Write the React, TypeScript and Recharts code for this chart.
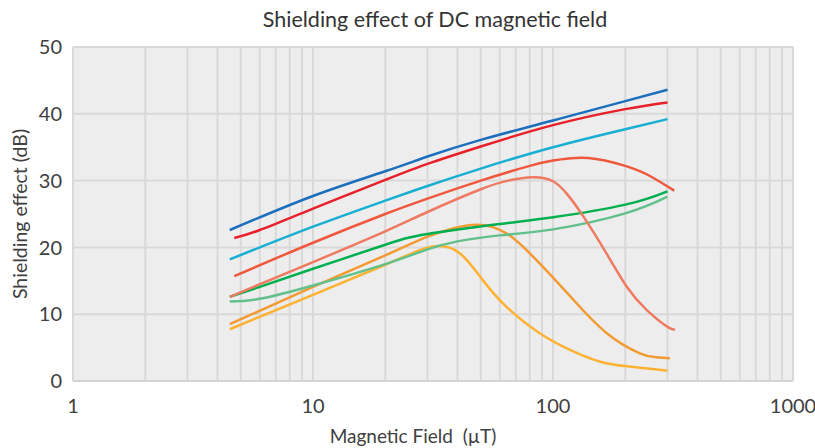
import React from 'react';
import { LineChart, Line, XAxis, YAxis, CartesianGrid } from 'recharts';

const FONT = 'Lato, "Open Sans", sans-serif';

// gridline / tick positions on the log axis
const xGridTicks = [
  1, 2, 3, 4, 5, 6, 7, 8, 9,
  10, 20, 30, 40, 50, 60, 70, 80, 90,
  100, 200, 300, 400, 500, 600, 700, 800, 900,
  1000,
];
const xLabelTicks = [1, 10, 100, 1000];
const yTicks = [0, 10, 20, 30, 40, 50];

// each curve: magnetic field (uT) vs shielding effect (dB)
const blue = [
  { x: 4.5, y: 22.6 }, { x: 10, y: 27.7 }, { x: 20, y: 31.4 }, { x: 30, y: 33.6 },
  { x: 50, y: 36.1 }, { x: 100, y: 39.0 }, { x: 200, y: 41.9 }, { x: 300, y: 43.6 },
];
const red = [
  { x: 4.7, y: 21.4 }, { x: 6, y: 22.6 }, { x: 10, y: 25.8 }, { x: 20, y: 30.1 },
  { x: 30, y: 32.5 }, { x: 50, y: 35.1 }, { x: 100, y: 38.3 }, { x: 200, y: 40.7 },
  { x: 300, y: 41.7 },
];
const cyan = [
  { x: 4.5, y: 18.2 }, { x: 10, y: 23.1 }, { x: 20, y: 27.0 }, { x: 30, y: 29.2 },
  { x: 50, y: 31.8 }, { x: 100, y: 35.0 }, { x: 200, y: 37.7 }, { x: 300, y: 39.2 },
];
const tomato = [
  { x: 4.7, y: 15.7 }, { x: 10, y: 20.7 }, { x: 20, y: 25.0 }, { x: 30, y: 27.3 },
  { x: 50, y: 30.0 }, { x: 80, y: 32.2 }, { x: 100, y: 33.0 }, { x: 140, y: 33.4 },
  { x: 200, y: 32.2 }, { x: 250, y: 30.8 }, { x: 320, y: 28.5 },
];
const salmon = [
  { x: 4.5, y: 12.6 }, { x: 10, y: 17.8 }, { x: 20, y: 22.4 }, { x: 30, y: 25.3 },
  { x: 50, y: 28.7 }, { x: 65, y: 30.0 }, { x: 82, y: 30.5 }, { x: 100, y: 29.9 },
  { x: 115, y: 27.9 }, { x: 134, y: 24.6 }, { x: 167, y: 19.1 }, { x: 203, y: 14.1 },
  { x: 246, y: 10.6 }, { x: 300, y: 8.1 }, { x: 322, y: 7.75 },
];
const green = [
  { x: 4.5, y: 12.6 }, { x: 6, y: 14.1 }, { x: 10, y: 16.8 }, { x: 20, y: 20.4 },
  { x: 30, y: 22.0 }, { x: 60, y: 23.5 }, { x: 100, y: 24.5 }, { x: 200, y: 26.4 },
  { x: 300, y: 28.4 },
];
const lightGreen = [
  { x: 4.5, y: 11.9 }, { x: 6, y: 12.3 }, { x: 10, y: 14.3 }, { x: 20, y: 17.5 },
  { x: 30, y: 19.7 }, { x: 40, y: 20.9 }, { x: 60, y: 21.8 }, { x: 100, y: 22.7 },
  { x: 200, y: 25.1 }, { x: 300, y: 27.6 },
];
const orange = [
  { x: 4.5, y: 8.5 }, { x: 10, y: 14.1 }, { x: 20, y: 18.8 }, { x: 30, y: 21.6 },
  { x: 38, y: 22.8 }, { x: 48, y: 23.4 }, { x: 64, y: 22.1 }, { x: 88, y: 17.6 },
  { x: 122, y: 12.1 }, { x: 167, y: 7.2 }, { x: 230, y: 4.15 }, { x: 270, y: 3.55 },
  { x: 307, y: 3.4 },
];
const yellow = [
  { x: 4.5, y: 7.75 }, { x: 10, y: 12.9 }, { x: 20, y: 17.4 }, { x: 27, y: 19.4 },
  { x: 33, y: 20.2 }, { x: 41, y: 19.1 }, { x: 51, y: 15.1 }, { x: 64, y: 11.1 },
  { x: 88, y: 7.15 }, { x: 122, y: 4.4 }, { x: 167, y: 2.65 }, { x: 230, y: 2.0 },
  { x: 300, y: 1.55 },
];

const series = [
  { name: 'yellow', data: yellow, color: '#fdb233' },
  { name: 'orange', data: orange, color: '#f39a33' },
  { name: 'lightGreen', data: lightGreen, color: '#62c08a' },
  { name: 'green', data: green, color: '#00b050' },
  { name: 'salmon', data: salmon, color: '#ef7a62' },
  { name: 'tomato', data: tomato, color: '#ef583c' },
  { name: 'cyan', data: cyan, color: '#19afd3' },
  { name: 'red', data: red, color: '#e8202a' },
  { name: 'blue', data: blue, color: '#1b6fbd' },
];

export default function App() {
  return (
    <div style={{ position: 'absolute', left: 0, top: 0, width: 815, height: 448, background: '#fff' }}>
      <div
        style={{
          position: 'absolute',
          left: 185,
          width: 500,
          top: 6,
          textAlign: 'center',
          fontFamily: FONT,
          fontSize: 21.5,
          color: '#333',
        }}
      >
        Shielding effect of DC magnetic field
      </div>
      <LineChart width={815} height={448} margin={{ top: 47, right: 22, bottom: 0, left: 0 }}>
        <CartesianGrid fill="#ededed" stroke="#d9d9d9" strokeWidth={2} />
        <XAxis
          type="number"
          dataKey="x"
          scale="log"
          domain={[1, 1000]}
          allowDataOverflow
          ticks={xGridTicks}
          interval={0}
          height={67}
          tickLine={false}
          tickMargin={12}
          axisLine={{ stroke: '#d4d4d4', strokeWidth: 2 }}
          tick={{ fill: '#404040', fontSize: 20, fontFamily: FONT }}
          tickFormatter={(v: number) => (xLabelTicks.includes(v) ? String(v) : '')}
          label={{
            value: 'Magnetic Field\u00a0 (µT)',
            position: 'insideBottom',
            offset: 5,
            dx: -20,
            style: { fill: '#404040', fontSize: 19, fontFamily: FONT },
          }}
        />
        <YAxis
          type="number"
          domain={[0, 50]}
          ticks={yTicks}
          width={73}
          tickLine={false}
          axisLine={false}
          tickMargin={5}
          tick={{ fill: '#404040', fontSize: 20, fontFamily: FONT }}
          label={{
            value: 'Shielding effect (dB)',
            angle: -90,
            position: 'insideLeft',
            offset: 20,
            style: { textAnchor: 'middle', fill: '#404040', fontSize: 19.5, fontFamily: FONT },
          }}
        />
        {series.map((s) => (
          <Line
            key={s.name}
            data={s.data}
            dataKey="y"
            type="natural"
            stroke={s.color}
            strokeWidth={2.5}
            dot={false}
            isAnimationActive={false}
          />
        ))}
      </LineChart>
    </div>
  );
}
